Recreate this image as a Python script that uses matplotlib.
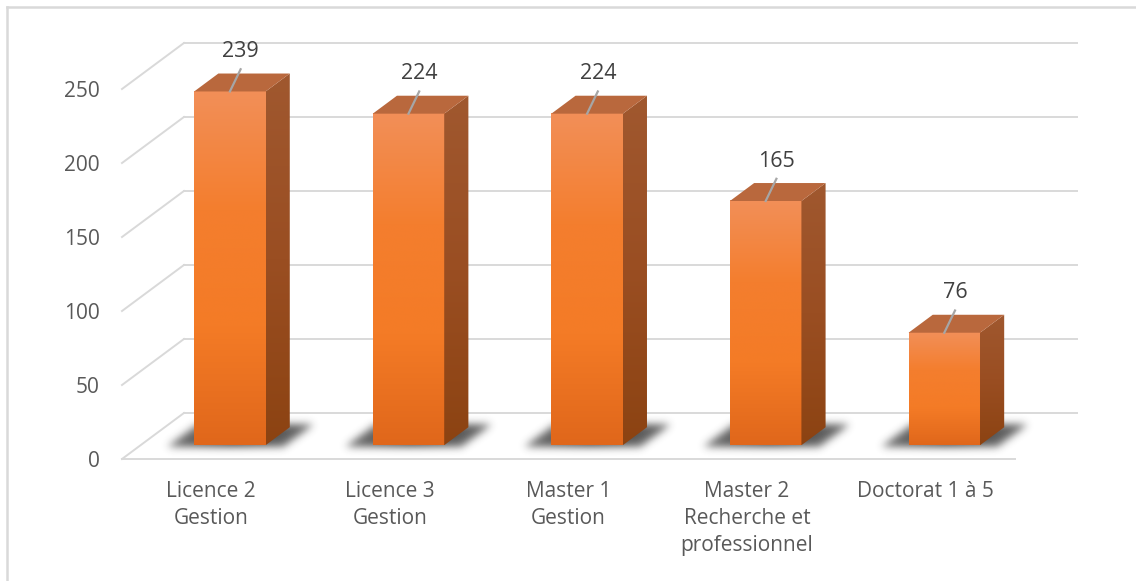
import matplotlib
matplotlib.use("Agg")
import matplotlib.pyplot as plt
import numpy as np
from matplotlib.colors import LinearSegmentedColormap, to_rgb
from matplotlib.patches import Polygon
from matplotlib.lines import Line2D

categories = ["Licence 2\nGestion", "Licence 3\nGestion", "Master 1\nGestion",
              "Master 2\nRecherche et\nprofessionnel", "Doctorat 1 à 5"]
values = [239, 224, 224, 165, 76]
yticks = [0, 50, 100, 150, 200, 250]

plt.rcParams['font.family'] = ['Open Sans', 'DejaVu Sans']

W, H, DPI = 1136, 581, 100
fig = plt.figure(figsize=(W / DPI, H / DPI), dpi=DPI)
fig.patch.set_facecolor('white')

# axes placement (pixels)
ax_l, ax_r, ax_b, ax_t = 122, 1085, 459, 28
PX_X, PX_Y = 178.6, 1.48
ax = fig.add_axes([ax_l / W, (H - ax_b) / H, (ax_r - ax_l) / W, (ax_b - ax_t) / H])
XLIM = (-0.5, -0.5 + (ax_r - ax_l) / PX_X)
YLIM = (0, (ax_b - ax_t) / PX_Y)
for s in ax.spines.values():
    s.set_visible(False)

# oblique depth
DX, DY = 0.347, 31.1
F0, F1 = 0.30, 0.69
BW = 0.40
n = len(categories)

grid_c = '#D9D9D9'
for v in yticks:
    ax.plot([-0.5 + DX, n - 0.5 + DX], [v + DY, v + DY], color=grid_c, lw=1.4, zorder=1, clip_on=False)
    ax.plot([-0.5, -0.5 + DX], [v, v + DY], color=grid_c, lw=1.4, zorder=1, clip_on=False)
ax.plot([-0.5, n - 0.5], [0, 0], color=grid_c, lw=1.4, zorder=1, clip_on=False)

front_cmap = LinearSegmentedColormap.from_list('front', ['#E0671B', '#F47B26', '#F47E2E', '#F28F58'])
side_cmap = LinearSegmentedColormap.from_list('side', ['#8C4312', '#9A4E22', '#A0582F'])
top_c = '#B9683D'
grad = np.linspace(0, 1, 256).reshape(-1, 1)


def gauss_blur(a, sigma):
    r = int(3 * sigma)
    k = np.exp(-0.5 * (np.arange(-r, r + 1) / sigma) ** 2)
    k /= k.sum()
    a = np.apply_along_axis(lambda m: np.convolve(m, k, mode='same'), 0, a)
    a = np.apply_along_axis(lambda m: np.convolve(m, k, mode='same'), 1, a)
    return a


d = F1 - F0
sh_rgb = to_rgb('#262626')
for i, v in enumerate(values):
    xc = i + F0 * DX
    xl, xr = xc - BW / 2, xc + BW / 2
    yb = F0 * DY
    # blurred floor shadow
    ex0, ex1 = xl - 0.4, xr + d * DX + 0.4
    ey0, ey1 = yb - 10, yb + d * DY + 10
    nx, ny = int((ex1 - ex0) * PX_X), int((ey1 - ey0) * PX_Y)
    gx = np.linspace(ex0, ex1, nx)
    gy = np.linspace(ey0, ey1, ny)
    XX, YY = np.meshgrid(gx, gy)
    t = YY / DY
    x0 = XX - t * DX
    lo = i - BW / 2 - 0.14
    hi = i + BW / 2 + 0.11
    mask = ((t >= F0 - 0.04) & (t <= F1 + 0.06) & (x0 >= lo) & (x0 <= hi)).astype(float)
    mask *= np.clip(1.0 - np.abs(x0 - i) / (BW / 2 + 0.2) * 0.3, 0, 1)
    alpha = gauss_blur(mask, 4.0) * 0.9
    rgba = np.zeros((ny, nx, 4))
    rgba[..., :3] = sh_rgb
    rgba[..., 3] = alpha
    ax.imshow(rgba, extent=[ex0, ex1, ey0, ey1], origin='lower', aspect='auto',
              interpolation='bilinear', zorder=2)
    # front face gradient
    ax.imshow(grad, extent=[xl, xr, yb, yb + v], origin='lower', aspect='auto',
              cmap=front_cmap, interpolation='bicubic', zorder=4)
    # side face
    side = Polygon([(xr, yb), (xr + d * DX, yb + d * DY), (xr + d * DX, yb + v + d * DY), (xr, yb + v)],
                   closed=True, facecolor='none', edgecolor='none', zorder=4)
    ax.add_patch(side)
    im = ax.imshow(grad, extent=[xr, xr + d * DX, yb, yb + v + d * DY], origin='lower', aspect='auto',
                   cmap=side_cmap, interpolation='bicubic', zorder=4)
    im.set_clip_path(side)
    # top face
    top = Polygon([(xl, yb + v), (xr, yb + v), (xr + d * DX, yb + v + d * DY), (xl + d * DX, yb + v + d * DY)],
                  closed=True, facecolor=top_c, edgecolor='none', zorder=5)
    ax.add_patch(top)
    # leader line and value label
    ax.plot([xc, xc + 0.06], [yb + v, yb + v + 15], color='#A6A6A6', lw=1.6, zorder=6, clip_on=False)
    ax.text(xc + 0.06, yb + v + 27, str(v), ha='center', va='center', fontsize=15.5,
            color='#404040', zorder=7)

ax.set_xlim(*XLIM)
ax.set_ylim(*YLIM)

ax.set_yticks(yticks)
ax.set_yticklabels([str(t) for t in yticks], fontsize=15, color='#595959')
ax.set_xticks(range(n))
ax.set_xticklabels(categories, fontsize=15, color='#595959', linespacing=1.38)
ax.tick_params(axis='both', length=0)
ax.tick_params(axis='y', pad=16)
ax.tick_params(axis='x', pad=16)

# outer frame (top and left)
fig.add_artist(Line2D([7 / W, 1.0], [1 - 7 / H, 1 - 7 / H], transform=fig.transFigure, color='#D9D9D9', lw=1.8))
fig.add_artist(Line2D([7 / W, 7 / W], [0, 1 - 7 / H], transform=fig.transFigure, color='#D9D9D9', lw=1.8))

fig.savefig('out.png', dpi=DPI, facecolor='white')
